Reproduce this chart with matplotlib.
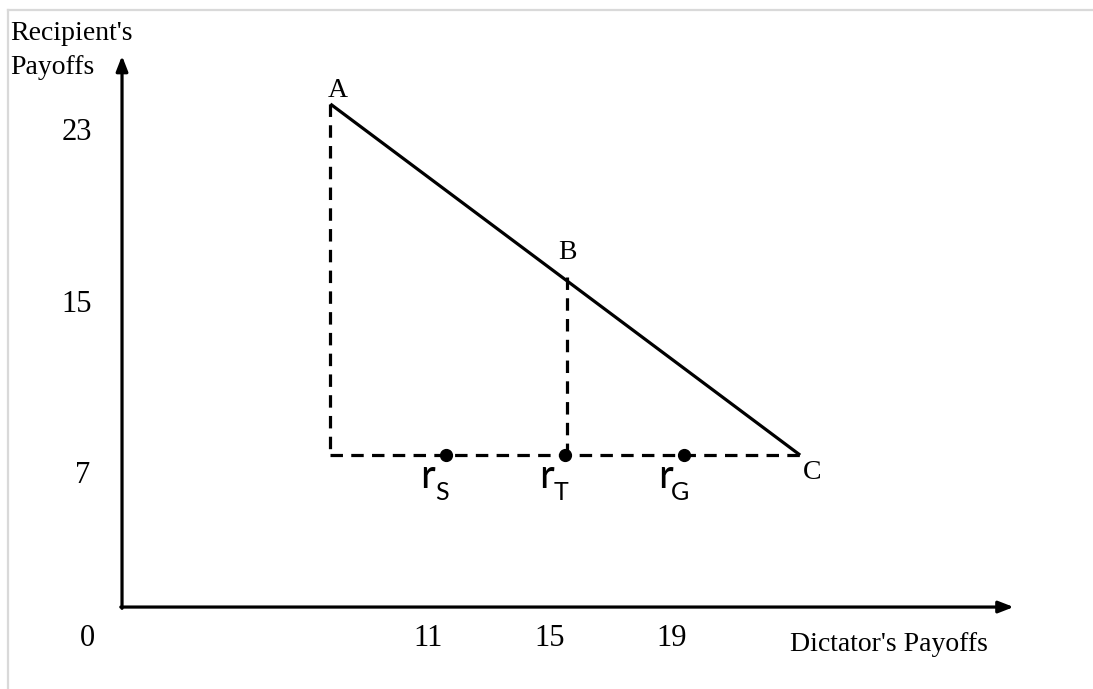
import matplotlib
matplotlib.use("Agg")
import matplotlib.pyplot as plt
from matplotlib.lines import Line2D

corner_x = ["A", "B", "C"]
corner_px = [7.8, 15.56, 23.2]
corner_py = [24.35, 16.26, 7.94]
label_dx = [0.25, 0.0, 0.4]
label_dy = [0.65, 1.17, -0.8]

r_names = ["S", "T", "G"]
r_x = [11.59, 15.49, 19.39]
r_y = [7.94, 7.94, 7.94]

x_ticks = [11, 15, 19]
y_ticks = [23, 15, 7]

axis_x0, axis_y0 = 0.97, 0.84
x_end, y_end = 30.2, 26.6

serif = ["Liberation Serif", "DejaVu Serif"]
sans = ["Lato", "DejaVu Sans"]
lw = 2.3
dash = (0, (3.9, 2.6))

fig = plt.figure(figsize=(10.93, 6.89), dpi=100)
ax = fig.add_axes([0, 0, 1, 1])
ax.set_xlim(-3.03, 32.8)
ax.set_ylim(-2.99, 29.21)
ax.axis("off")

# screenshot frame
fig.add_artist(Line2D([8 / 1093, 1], [1 - 10 / 689] * 2, transform=fig.transFigure, color="#d9d9d9", lw=1.6))
fig.add_artist(Line2D([8 / 1093] * 2, [0, 1 - 10 / 689], transform=fig.transFigure, color="#d9d9d9", lw=1.6))

# axes with arrows
arrow = dict(arrowstyle="-|>,head_length=0.9,head_width=0.35", color="black", lw=lw, shrinkA=0, shrinkB=0)
ax.annotate("", xy=(x_end, axis_y0), xytext=(axis_x0 - 0.04, axis_y0), arrowprops=arrow)
ax.annotate("", xy=(axis_x0, y_end), xytext=(axis_x0, axis_y0 - 0.06), arrowprops=arrow)

# budget line A-C
ax.plot([corner_px[0], corner_px[2]], [corner_py[0], corner_py[2]], color="black", lw=lw, solid_capstyle="butt")

# dashed guides
ax.plot([corner_px[0], corner_px[0]], [corner_py[0], corner_py[2]], color="black", lw=lw, ls=dash)
ax.plot([corner_px[1], corner_px[1]], [corner_py[1], corner_py[2]], color="black", lw=lw, ls=dash)
ax.plot([corner_px[0], corner_px[2]], [corner_py[2], corner_py[2]], color="black", lw=lw, ls=dash)

ax.plot(r_x, r_y, "o", color="black", ms=8.5)

for name, x, y, dx, dy in zip(corner_x, corner_px, corner_py, label_dx, label_dy):
    ax.text(x + dx, y + dy, name, family=serif, fontsize=20, ha="center", va="center")

for name, x, y in zip(r_names, r_x, r_y):
    ax.text(x - 0.6, y - 1.0, "r", family=sans, fontsize=29, ha="center", va="center")
    ax.text(x - 0.14, y - 1.75, name, family=sans, fontsize=18, ha="center", va="center")

for v in x_ticks:
    ax.text(v, -0.61, str(v), family=serif, fontsize=22, ha="center", va="center")
for v in y_ticks:
    ax.text(-0.51 if v >= 10 else -0.32, v, str(v), family=serif, fontsize=22, ha="center", va="center")
ax.text(-0.15, -0.61, "0", family=serif, fontsize=22, ha="center", va="center")

ax.text(26.1, -0.9, "Dictator's Payoffs", family=serif, fontsize=20, ha="center", va="center")
fig.text(10 / 1093, 1 - 21 / 689, "Recipient's\nPayoffs", family=serif, fontsize=20,
         ha="left", va="top", linespacing=1.5)

fig.savefig("out.png", dpi=100)
